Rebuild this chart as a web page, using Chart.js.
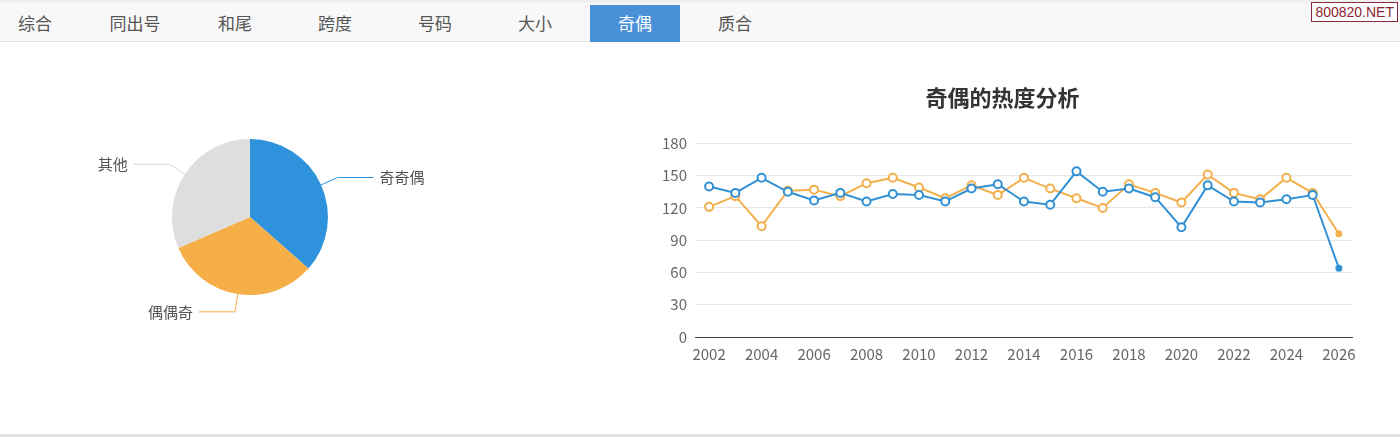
<!DOCTYPE html>
<html>
<head>
<meta charset="utf-8">
<script src="https://cdn.jsdelivr.net/npm/chart.js@4/dist/chart.umd.min.js"></script>
<style>
  html, body { margin: 0; padding: 0; background: #fff; }
  body { width: 1400px; height: 437px; position: relative; overflow: hidden;
         font-family: "Noto Sans CJK SC", "Noto Sans", sans-serif; }
  .tabs { position: absolute; left: 0; top: 0; width: 1400px; height: 42px;
          background: #f8f8f8; border-top: 3px solid #efefef; border-bottom: 1px solid #e4e4e4; box-sizing: border-box; }
  .tab { position: absolute; top: 2px; width: 90px; height: 37px; line-height: 36px;
         text-align: center; font-size: 17px; color: #555; }
  .tab.on { background: #4a90d9; color: #fff; }
  .mark { position: absolute; right: 2px; top: 2px; background: #fff; border: 1px solid #8b2a3a;
          color: #8b1f2f; font-size: 14px; line-height: 18px; padding: 0 3px; font-family: "Liberation Sans", sans-serif; }
  .foot { position: absolute; left: 0; top: 434px; width: 1400px; height: 3px; background: #e2e2e2; }
  #pieBox { position: absolute; left: 50px; top: 77px; width: 400px; height: 280px; }
  #lineBox { position: absolute; left: 653px; top: 72px; width: 727px; height: 291px; }
</style>
</head>
<body>
<div class="tabs">
  <div class="tab" style="left:-10px">综合</div>
  <div class="tab" style="left:90px">同出号</div>
  <div class="tab" style="left:190px">和尾</div>
  <div class="tab" style="left:290px">跨度</div>
  <div class="tab" style="left:390px">号码</div>
  <div class="tab" style="left:490px">大小</div>
  <div class="tab on" style="left:590px">奇偶</div>
  <div class="tab" style="left:690px">质合</div>
</div>
<div class="mark">800820.NET</div>
<div id="pieBox"><canvas id="pie"></canvas></div>
<div id="lineBox"><canvas id="line"></canvas></div>
<div class="foot"></div>
<script>
// pie data
const pieLabels = ['奇奇偶', '偶偶奇', '其他'];
const pieValues = [36.5, 32, 31.5];
const pieColors = ['#2e93dc', '#f6ae48', '#dedede'];

// line data
const years = ['2002', '2003', '2004', '2005', '2006', '2007', '2008', '2009', '2010', '2011', '2012', '2013',
  '2014', '2015', '2016', '2017', '2018', '2019', '2020', '2021', '2022', '2023', '2024', '2025', '2026'];
const oddOddEven = [140, 134, 148, 135, 127, 134, 126, 133, 132, 126, 138, 142,
  126, 123, 154, 135, 138, 130, 102, 141, 126, 125, 128, 132, 64];
const evenEvenOdd = [121, 131, 103, 136, 137, 131, 143, 148, 139, 129, 141, 132,
  148, 138, 129, 120, 142, 134, 125, 151, 134, 128, 148, 134, 96];
const yTicks = [0, 30, 60, 90, 120, 150, 180];

const font = '"Noto Sans CJK SC", "Noto Sans", sans-serif';

// outside labels with leader lines for the pie
const pieLabelPlugin = {
  id: 'pieLabels',
  afterDatasetsDraw(chart) {
    const ctx = chart.ctx;
    const meta = chart.getDatasetMeta(0);
    meta.data.forEach((arc, i) => {
      const p = arc.getProps(['x', 'y', 'startAngle', 'endAngle', 'outerRadius']);
      const mid = (p.startAngle + p.endAngle) / 2;
      const cos = Math.cos(mid), sin = Math.sin(mid);
      const x1 = p.x + cos * p.outerRadius, y1 = p.y + sin * p.outerRadius;
      const x2 = p.x + cos * (p.outerRadius + 18), y2 = p.y + sin * (p.outerRadius + 18);
      const dir = cos >= 0 ? 1 : -1;
      const x3 = x2 + dir * 36;
      ctx.save();
      ctx.strokeStyle = pieColors[i] === '#dedede' ? '#d6d6d6' : pieColors[i];
      ctx.lineWidth = 1;
      ctx.beginPath();
      ctx.moveTo(x1, y1);
      ctx.lineTo(x2, y2);
      ctx.lineTo(x3, y2);
      ctx.stroke();
      ctx.fillStyle = '#555';
      ctx.font = '15px ' + font;
      ctx.textBaseline = 'middle';
      ctx.textAlign = dir > 0 ? 'left' : 'right';
      ctx.fillText(pieLabels[i], x3 + dir * 6, y2);
      ctx.restore();
    });
  }
};

new Chart(document.getElementById('pie'), {
  type: 'pie',
  data: {
    labels: pieLabels,
    datasets: [{ data: pieValues, backgroundColor: pieColors, borderWidth: 0, hoverOffset: 0 }]
  },
  options: {
    responsive: true,
    maintainAspectRatio: false,
    animation: false,
    layout: { padding: { top: 62, bottom: 62 } },
    plugins: { legend: { display: false }, tooltip: { enabled: false } }
  },
  plugins: [pieLabelPlugin]
});

// last point is a small filled dot, the rest hollow rings
const lastIdx = years.length - 1;
const radii = years.map((y, i) => i === lastIdx ? 2.5 : 4);
function fills(color) {
  return years.map((y, i) => i === lastIdx ? color : '#fff');
}

new Chart(document.getElementById('line'), {
  type: 'line',
  data: {
    labels: years,
    datasets: [
      {
        label: '奇奇偶',
        data: oddOddEven,
        borderColor: '#3291d5',
        backgroundColor: '#3291d5',
        pointBackgroundColor: fills('#3291d5'),
        pointBorderColor: '#3291d5',
        pointRadius: radii,
        pointBorderWidth: 2,
        borderWidth: 2,
        tension: 0
      },
      {
        label: '偶偶奇',
        data: evenEvenOdd,
        borderColor: '#f2b04d',
        backgroundColor: '#f2b04d',
        pointBackgroundColor: fills('#f2b04d'),
        pointBorderColor: '#f2b04d',
        pointRadius: radii,
        pointBorderWidth: 2,
        borderWidth: 2,
        tension: 0
      }
    ]
  },
  options: {
    responsive: true,
    maintainAspectRatio: false,
    animation: false,
    layout: { padding: { left: 0, right: 28, bottom: 0 } },
    plugins: {
      legend: { display: false },
      tooltip: { enabled: false },
      title: {
        display: true,
        text: '奇偶的热度分析',
        color: '#333',
        font: { size: 22, weight: 'bold', family: font },
        padding: { top: 12, bottom: 33 }
      }
    },
    scales: {
      x: {
        offset: true,
        grid: { display: false },
        border: { display: true, color: '#444', width: 1 },
        ticks: {
          autoSkip: false,
          maxRotation: 0,
          color: '#666',
          padding: 0,
          font: { size: 15, family: font },
          callback: (v, i) => (i % 2 === 0 ? years[i] : '')
        }
      },
      y: {
        min: yTicks[0],
        max: yTicks[yTicks.length - 1],
        afterBuildTicks: (axis) => { axis.ticks = yTicks.map(v => ({ value: v })); },
        grid: { color: '#e6e6e6', drawTicks: false },
        border: { display: false },
        ticks: { color: '#666', padding: 9, font: { size: 15, family: font } }
      }
    }
  }
});
</script>
</body>
</html>
